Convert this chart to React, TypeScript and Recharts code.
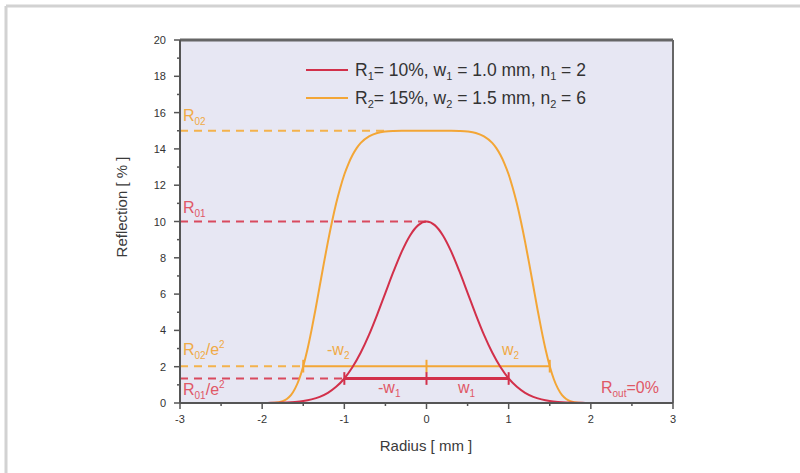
import { LineChart, Line, XAxis, YAxis, ReferenceLine, ReferenceArea } from 'recharts'

// Gaussian mirror, R01 = 10 %, w1 = 1.0 mm, n1 = 2
const radius1 = [
  -3, -2.5, -2, -1.9, -1.8, -1.7, -1.6, -1.5, -1.4, -1.3, -1.2, -1.1, -1, -0.9, -0.8, -0.7, -0.6, -0.5, -0.4, -0.3, -0.2, -0.1,
  0,
  0.1, 0.2, 0.3, 0.4, 0.5, 0.6, 0.7, 0.8, 0.9, 1, 1.1, 1.2, 1.3, 1.4, 1.5, 1.6, 1.7, 1.8, 1.9, 2, 2.5, 3,
]
const reflection1 = [
  0, 0, 0, 0.01, 0.02, 0.03, 0.06, 0.11, 0.2, 0.34, 0.56, 0.89, 1.35, 1.98, 2.78, 3.75, 4.87, 6.07, 7.26, 8.35, 9.23, 9.8,
  10,
  9.8, 9.23, 8.35, 7.26, 6.07, 4.87, 3.75, 2.78, 1.98, 1.35, 0.89, 0.56, 0.34, 0.2, 0.11, 0.06, 0.03, 0.02, 0.01, 0, 0, 0,
]

// super-Gaussian mirror, R02 = 15 %, w2 = 1.5 mm, n2 = 6
const radius2 = [
  -3, -2.5, -2, -1.9, -1.8, -1.75, -1.7, -1.65, -1.6, -1.55, -1.5, -1.45, -1.4, -1.35, -1.3, -1.25, -1.2, -1.15, -1.1, -1.05,
  -1, -0.95, -0.9, -0.85, -0.8, -0.7, -0.6, -0.5, -0.4, -0.3, -0.2,
  0,
  0.2, 0.3, 0.4, 0.5, 0.6, 0.7, 0.8, 0.85, 0.9, 0.95, 1, 1.05, 1.1, 1.15, 1.2, 1.25, 1.3, 1.35, 1.4, 1.45, 1.5, 1.55, 1.6,
  1.65, 1.7, 1.75, 1.8, 1.9, 2, 2.5, 3,
]
const reflection2 = [
  0, 0, 0, 0, 0.04, 0.1, 0.22, 0.43, 0.79, 1.31, 2.03, 2.93, 4.0, 5.18, 6.43, 7.68, 8.88, 9.99, 10.99, 11.85,
  12.59, 13.18, 13.66, 14.04, 14.33, 14.69, 14.88, 14.96, 14.99, 15, 15,
  15,
  15, 15, 14.99, 14.96, 14.88, 14.69, 14.33, 14.04, 13.66, 13.18, 12.59, 11.85, 10.99, 9.99, 8.88, 7.68, 6.43, 5.18, 4.0,
  2.93, 2.03, 1.31, 0.79, 0.43, 0.22, 0.1, 0.04, 0, 0, 0, 0,
]

// annotation levels
const peakLevels = [10, 15] // R01, R02
const edgeLevels = [1.35, 2.03] // R01/e^2, R02/e^2
const halfWidths = [1.0, 1.5] // w1, w2
const plateauEdge = -0.5 // where the R02 dashed guide meets the curve

const xTicks = [-3, -2.5, -2, -1.5, -1, -0.5, 0, 0.5, 1, 1.5, 2, 2.5, 3]
const yTicks = [0, 1, 2, 3, 4, 5, 6, 7, 8, 9, 10, 11, 12, 13, 14, 15, 16, 17, 18, 19, 20]

const curve1 = radius1.map((r, i) => ({ r, v: reflection1[i] }))
const curve2 = radius2.map((r, i) => ({ r, v: reflection2[i] }))

const RED = '#d2304a'
const ORANGE = '#f3a636'
const RED_DASH = '#d94a5e'
const ORANGE_DASH = '#f4b24c'
const RED_TEXT = '#e05866'
const ORANGE_TEXT = '#f0aa46'
const AXIS = '#555'
const FONT = '"Liberation Sans", Arial, sans-serif'

const XTick = (props: any) => {
  const { x, y, payload } = props
  const major = Number.isInteger(payload.value)
  return (
    <g>
      <line x1={x} x2={x} y1={y} y2={y + (major ? 6 : 3)} stroke={AXIS} strokeWidth={1.5} />
      {major && (
        <text x={x} y={y + 20} textAnchor="middle" fontSize={11} fill="#333" fontFamily={FONT}>
          {payload.value}
        </text>
      )}
    </g>
  )
}

const YTick = (props: any) => {
  const { x, y, payload } = props
  const major = payload.value % 2 === 0
  return (
    <g>
      <line x1={x} x2={x - (major ? 6 : 3)} y1={y} y2={y} stroke={AXIS} strokeWidth={1.5} />
      {major && (
        <text x={x - 14} y={y + 4} textAnchor="end" fontSize={11} fill="#333" fontFamily={FONT}>
          {payload.value}
        </text>
      )}
    </g>
  )
}

// parts: [text, kind] where kind is '' (normal), 'sub' or 'sup'
type Part = [string, '' | 'sub' | 'sup']
function Label({ x, y, size, fill, parts }: { x: number; y: number; size: number; fill: string; parts: Part[] }) {
  let shift = 0
  const small = Math.round(size * 0.62)
  return (
    <text x={x} y={y} fontSize={size} fill={fill}>
      {parts.map(([t, kind], i) => {
        const target = kind === 'sub' ? 4 : kind === 'sup' ? -7 : 0
        const dy = target - shift
        shift = target
        return (
          <tspan key={i} dy={dy} fontSize={kind ? small : size}>
            {t}
          </tspan>
        )
      })}
    </text>
  )
}

export default function App() {
  const [r1, r2] = peakLevels
  const [e1, e2] = edgeLevels
  const [w1, w2] = halfWidths
  const tick = 0.35

  return (
    <div style={{ position: 'absolute', left: 0, top: 0, width: 800, height: 473, background: '#fff', fontFamily: FONT }}>
      <LineChart width={800} height={473} margin={{ top: 40, right: 127, bottom: 40, left: 140 }}>
        <ReferenceArea x1={-3} x2={3} y1={0} y2={20} fill="#e7e7f3" fillOpacity={1} stroke="none" />
        <XAxis
          dataKey="r"
          type="number"
          domain={[-3, 3]}
          ticks={xTicks}
          allowDataOverflow
          height={30}
          tickSize={0}
          tickMargin={0}
          tickLine={false}
          tick={<XTick />}
          axisLine={{ stroke: AXIS, strokeWidth: 2 }}
        />
        <YAxis
          type="number"
          domain={[0, 20]}
          ticks={yTicks}
          allowDataOverflow
          width={40}
          tickSize={0}
          tickMargin={0}
          tickLine={false}
          tick={<YTick />}
          axisLine={{ stroke: AXIS, strokeWidth: 2 }}
          interval={0}
        />
        <ReferenceLine y={20} stroke="#666" strokeWidth={3} />
        <ReferenceLine x={3} stroke="#666" strokeWidth={2} />

        {/* dashed guides */}
        <ReferenceLine segment={[{ x: -3, y: r2 }, { x: plateauEdge, y: r2 }]} stroke={ORANGE_DASH} strokeWidth={2} strokeDasharray="8 6" />
        <ReferenceLine segment={[{ x: -3, y: r1 }, { x: 0, y: r1 }]} stroke={RED_DASH} strokeWidth={2} strokeDasharray="8 6" />
        <ReferenceLine segment={[{ x: -3, y: e2 }, { x: -w2, y: e2 }]} stroke={ORANGE_DASH} strokeWidth={2} strokeDasharray="8 6" />
        <ReferenceLine segment={[{ x: -3, y: e1 }, { x: -w1, y: e1 }]} stroke={RED_DASH} strokeWidth={2} strokeDasharray="8 6" />

        {/* width bars */}
        <ReferenceLine segment={[{ x: -w2, y: e2 }, { x: w2, y: e2 }]} stroke={ORANGE} strokeWidth={2} />
        <ReferenceLine segment={[{ x: -w1, y: e1 }, { x: w1, y: e1 }]} stroke={RED} strokeWidth={3} />
        {[-w2, 0, w2].map((x) => (
          <ReferenceLine key={'o' + x} segment={[{ x, y: e2 - tick }, { x, y: e2 + tick }]} stroke={ORANGE} strokeWidth={2} />
        ))}
        {[-w1, 0, w1].map((x) => (
          <ReferenceLine key={'r' + x} segment={[{ x, y: e1 - tick }, { x, y: e1 + tick }]} stroke={RED} strokeWidth={2} />
        ))}

        <Line data={curve2} dataKey="v" type="monotone" dot={false} stroke={ORANGE} strokeWidth={2} isAnimationActive={false} />
        <Line data={curve1} dataKey="v" type="monotone" dot={false} stroke={RED} strokeWidth={2} isAnimationActive={false} />
      </LineChart>

      <svg width={800} height={473} style={{ position: 'absolute', left: 0, top: 0, pointerEvents: 'none' }} fontFamily={FONT}>
        {/* page frame */}
        <line x1={6} y1={6} x2={800} y2={6} stroke="#d2d2d2" strokeWidth={3} />
        <line x1={6} y1={6} x2={6} y2={473} stroke="#d2d2d2" strokeWidth={3} />

        {/* legend */}
        <line x1={306} x2={348} y1={70} y2={70} stroke={RED} strokeWidth={2} />
        <Label
          x={355}
          y={76}
          size={17.5}
          fill="#333"
          parts={[['R', ''], ['1', 'sub'], ['= 10%, w', ''], ['1', 'sub'], [' = 1.0 mm, n', ''], ['1', 'sub'], [' = 2', '']]}
        />
        <line x1={306} x2={348} y1={98} y2={98} stroke={ORANGE} strokeWidth={2} />
        <Label
          x={355}
          y={104}
          size={17.5}
          fill="#333"
          parts={[['R', ''], ['2', 'sub'], ['= 15%, w', ''], ['2', 'sub'], [' = 1.5 mm, n', ''], ['2', 'sub'], [' = 6', '']]}
        />

        {/* level labels */}
        <Label x={183} y={121} size={16} fill={ORANGE_TEXT} parts={[['R', ''], ['02', 'sub']]} />
        <Label x={183} y={213} size={16} fill={RED_TEXT} parts={[['R', ''], ['01', 'sub']]} />
        <Label x={183} y={355} size={16} fill={ORANGE_TEXT} parts={[['R', ''], ['02', 'sub'], ['/e', ''], ['2', 'sup']]} />
        <Label x={183} y={395} size={16} fill={RED_TEXT} parts={[['R', ''], ['01', 'sub'], ['/e', ''], ['2', 'sup']]} />

        {/* width labels */}
        <Label x={327} y={355} size={16} fill={ORANGE_TEXT} parts={[['-w', ''], ['2', 'sub']]} />
        <Label x={502} y={355} size={16} fill={ORANGE_TEXT} parts={[['w', ''], ['2', 'sub']]} />
        <Label x={378} y={393} size={16} fill={RED_TEXT} parts={[['-w', ''], ['1', 'sub']]} />
        <Label x={458} y={393} size={16} fill={RED_TEXT} parts={[['w', ''], ['1', 'sub']]} />
        <Label x={601} y={393} size={16} fill={RED_TEXT} parts={[['R', ''], ['out', 'sub'], ['=0%', '']]} />

        {/* axis titles */}
        <text x={426} y={451} textAnchor="middle" fontSize={15} fill="#3a3a3a">
          Radius [ mm ]
        </text>
        <text x={127} y={207} textAnchor="middle" fontSize={15} fill="#3a3a3a" transform="rotate(-90 127 207)">
          Reflection [ % ]
        </text>
      </svg>
    </div>
  )
}
